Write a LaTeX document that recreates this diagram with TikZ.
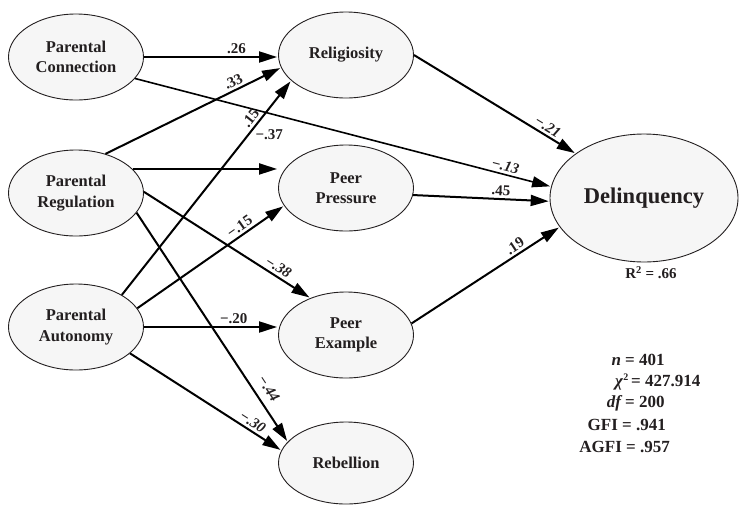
\documentclass[tikz,border=0pt]{standalone}
\usepackage{fontspec}
\setmainfont{Liberation Serif}
\usetikzlibrary{arrows.meta,shapes.geometric}
\definecolor{ink}{HTML}{231F20}
\definecolor{ellfill}{HTML}{F6F6F6}
\begin{document}
\begin{tikzpicture}[x=1pt,y=-1pt,
  var/.style={ellipse, draw=ink, line width=0.9pt, fill=ellfill, inner sep=0pt,
    minimum width=135pt, minimum height=86pt,
    font=\fontsize{16.5}{20.5}\selectfont\bfseries, text=ink, align=center},
  pathway/.style={line width=2pt, draw=black, shorten >=1pt,
    -{Triangle[length=18pt,width=11pt]}},
  coef/.style={font=\fontsize{15}{17}\selectfont\bfseries, text=ink, sloped, above, inner sep=2.5pt},
  icoef/.style={coef, font=\fontsize{15}{17}\selectfont\bfseries\itshape},
  stat/.style={font=\fontsize{17}{19}\selectfont\bfseries, text=ink, inner sep=0pt}]
\useasboundingbox (0,0) rectangle (739,504);

% exogenous
\node[var] (pc) at (76,57)  {Parental\\Connection};
\node[var] (pr) at (76,193) {Parental\\Regulation};
\node[var] (pa) at (76,327) {Parental\\Autonomy};
% mediators
\node[var] (rel) at (346,55)  {Religiosity};
\node[var] (pp)  at (346,188) {Peer\\Pressure};
\node[var] (pe)  at (346,335) {Peer\\Example};
\node[var, minimum height=82pt] (reb) at (346,463) {Rebellion};
% outcome
\node[var, minimum width=188pt, minimum height=128pt,
  font=\fontsize{22.5}{26}\selectfont\bfseries] (del) at (644,198) {Delinquency};

% paths
\draw[pathway] (pc.east) -- (pc.east -| rel.west) node[coef,pos=.69]{.26};
\draw[pathway, line width=1.6pt] (pc.-20) -- (del.173.5) node[icoef,pos=.885]{−.13};
\draw[pathway] (pr.53) -- (rel.191) node[coef,pos=.75]{.33};
\draw[pathway] (pr.23) -- (pr.23 -| pp.west)
  node[font=\fontsize{15}{17}\selectfont\bfseries, text=ink, pos=.94, above=25pt]{−.37};
\draw[pathway] (pr.1) -- (pe.134) node[icoef,pos=.78]{−.38};
\draw[pathway] (pr.-18) -- (reb.160) node[icoef,pos=.8,above=5pt]{−.44};
\draw[pathway] (pa.35) -- (rel.205) node[coef,pos=.8]{.15};
\draw[pathway] (pa.17) -- (pp.196) node[coef,pos=.73]{−.15};
\draw[pathway] (pa.east) -- (pa.east -| pe.west) node[coef,pos=.67]{−.20};
\draw[pathway] (pa.-26) -- (reb.169) node[icoef,pos=.78]{−.30};
\draw[pathway] (rel.east) -- (del.147) node[icoef,pos=.8]{−.21};
\draw[pathway] (pp.-6) -- (del.182) node[coef,pos=.64]{.45};
\draw[pathway] (pe.10) -- (del.199) node[coef,pos=.73]{.19};

% fit statistics
\node[font=\fontsize{15}{17}\selectfont\bfseries, text=ink] (r2) at (651,273) {R\textsuperscript{2} = .66};
\node[stat, anchor=base west] (sn)   at (625,365) {\makebox[0pt][r]{\textit{n}\ }= 401};
\node[stat, anchor=base west] (schi) at (631,386) {\makebox[0pt][r]{\textit{χ}\raisebox{0.3em}{\fontsize{10}{10}\selectfont 2}\,}= 427.914};
\node[stat, anchor=base west] (sdf)  at (625,407) {\makebox[0pt][r]{\textit{df}\,}= 200};
\node[stat, anchor=base west] (sgfi) at (622,430) {\makebox[0pt][r]{GFI\ }= .941};
\node[stat, anchor=base west] (sagfi) at (626,452) {\makebox[0pt][r]{AGFI\ }= .957};
\end{tikzpicture}
\end{document}
